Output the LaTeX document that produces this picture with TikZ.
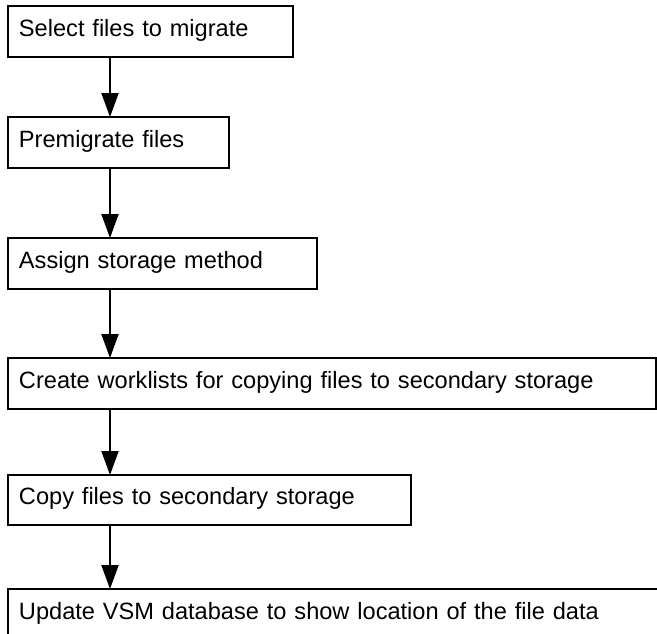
\documentclass[tikz,border=0pt]{standalone}
\usepackage{fontspec}
\setmainfont{Liberation Sans}
\usetikzlibrary{arrows.meta}
\begin{document}
\begin{tikzpicture}[x=1pt,y=-1pt,
  box/.style={draw, line width=2pt, anchor=north west, outer sep=0pt,
    inner xsep=11pt, inner ysep=0pt, text height=16pt, text depth=7pt,
    align=left, minimum height=51pt, font=\fontsize{23.6}{28}\selectfont},
  arr/.style={line width=2pt, -{Triangle[length=24pt,width=17pt]}}]
\useasboundingbox (0,0) rectangle (657,633);
\clip (0,0) rectangle (657,633);
\coordinate (ax) at (110,0);
\node[box, text width=263pt] (b1) at (8,6) {Select files to migrate};
\node[box, text width=199pt] (b2) at (8,117) {Premigrate files};
\node[box, text width=287pt] (b3) at (8,238) {Assign storage method};
\node[box, text width=625.5pt] (b4) at (8,358) {Create worklists for copying files to secondary storage};
\node[box, text width=381pt, minimum height=50pt] (b5) at (8,475) {Copy files to secondary storage};
\node[box, text width=680pt, minimum height=70pt, text height=16pt, text depth=26pt] (b6) at (8,589) {Update VSM database to show location of the file data};
\draw[arr] (b1.south -| ax) -- (b2.north -| ax);
\draw[arr] (b2.south -| ax) -- (b3.north -| ax);
\draw[arr] (b3.south -| ax) -- (b4.north -| ax);
\draw[arr] (b4.south -| ax) -- (b5.north -| ax);
\draw[arr] (b5.south -| ax) -- (b6.north -| ax);
\end{tikzpicture}
\end{document}
